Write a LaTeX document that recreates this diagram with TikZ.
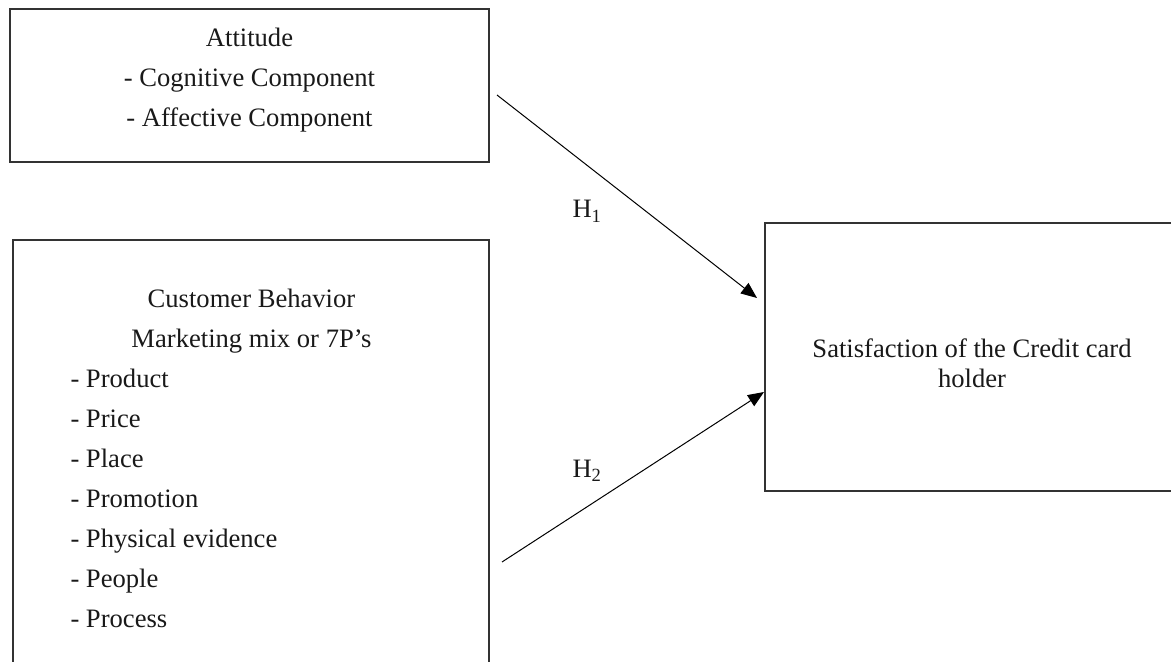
\documentclass[tikz,border=0pt]{standalone}
\usepackage{fontspec}
\setmainfont{Liberation Serif}
\usetikzlibrary{arrows.meta,calc}

\begin{document}
\begin{tikzpicture}[x=0.5pt, y=-0.5pt, line width=0.5pt,
  box/.style={draw=black!80, line width=1pt, inner sep=0pt},
  txt/.style={font=\fontsize{13.3}{20}\selectfont, inner sep=0pt, text=black!90},
  link/.style={-{Triangle[length=8pt, width=6.5pt]}, line width=0.5pt}]
  \useasboundingbox (0,0) rectangle (1171,662);
  \clip (0,0) rectangle (1171,662);
  % boxes
  \node[box, minimum width=239.5pt, minimum height=76.5pt] (att) at (249.5,85.5) {};
  \node[box, minimum width=238pt, minimum height=230pt] (cb) at (251,470) {};
  \node[box, minimum width=230pt, minimum height=134pt] (sat) at (995,357) {};
  % texts
  \node[txt, anchor=north, align=center] (atttxt) at (249.5,27.3)
    {Attitude\\- Cognitive Component\\- Affective Component};
  \node[txt, anchor=north, align=center] (cbhead) at (251.5,288.8)
    {Customer Behavior\\Marketing mix or 7P’s};
  \node[txt, anchor=north west, align=left] (cblist) at (70,368.6)
    {- Product\\- Price\\- Place\\- Promotion\\- Physical evidence\\- People\\- Process};
  \node[txt, font=\fontsize{13.3}{15}\selectfont, anchor=north, align=center] (sattxt) at (972,338.6)
    {Satisfaction of the Credit card\\holder};
  % hypotheses
  \coordinate (h1from) at (497,95);
  \coordinate (h2from) at (502,562);
  \draw[link] (h1from) -- ($(sat.west)+(-7,-59)$);
  \draw[link] (h2from) -- ($(sat.west)+(0,35)$);
  \node[txt, anchor=base west] (h1) at (572,218) {H\textsubscript{1}};
  \node[txt, anchor=base west] (h2) at (572,477) {H\textsubscript{2}};
\end{tikzpicture}
\end{document}
